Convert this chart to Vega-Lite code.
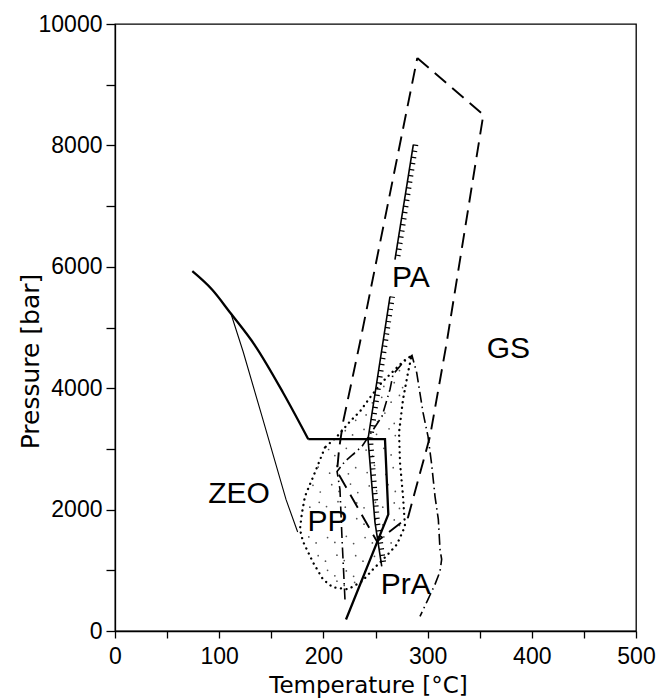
{
  "$schema": "https://vega.github.io/schema/vega-lite/v6.json",
  "width": 521,
  "height": 607,
  "autosize": {"type": "none"},
  "padding": {"left": 115, "top": 24, "right": 25, "bottom": 67},
  "background": "white",
  "config": {
    "view": {"stroke": "black", "strokeWidth": 1.3},
    "axis": {
      "domainColor": "black", "domainWidth": 1.3, "tickColor": "black", "tickWidth": 1.3,
      "labelFont": "Liberation Sans", "labelFontSize": 23, "labelColor": "black",
      "titleFont": "DejaVu Sans", "titleFontWeight": "normal", "titleColor": "black",
      "grid": false, "labelFlush": false, "labelOverlap": false, "labelBound": false
    }
  },
  "datasets": {
    "zeocurve": [
      {"i": 1, "T": 74.2, "P": 5927}, {"i": 2, "T": 93.1, "P": 5625}, {"i": 3, "T": 110.4, "P": 5247},
      {"i": 4, "T": 134.4, "P": 4703}, {"i": 5, "T": 161.2, "P": 3930}, {"i": 6, "T": 185.5, "P": 3160}
    ],
    "zeo": [
      {"i": 1, "T": 185.5, "P": 3160}, {"i": 2, "T": 259.1, "P": 3160}, {"i": 3, "T": 262.3, "P": 1921}, {"i": 4, "T": 221.7, "P": 190}
    ],
    "thin": [
      {"i": 1, "T": 111.3, "P": 5227}, {"i": 2, "T": 123.0, "P": 4600}, {"i": 3, "T": 141.1, "P": 3535}, {"i": 4, "T": 164.1, "P": 2168}, {"i": 5, "T": 175.3, "P": 1630}
    ],
    "gs": [
      {"i": 1, "T": 290.1, "P": 9440}, {"i": 2, "T": 353.5, "P": 8506}, {"i": 3, "T": 318.3, "P": 4748},
      {"i": 4, "T": 302.3, "P": 3205}, {"i": 5, "T": 281.2, "P": 1872}, {"i": 6, "T": 251.4, "P": 1477},
      {"i": 7, "T": 213.1, "P": 2629}, {"i": 8, "T": 215.0, "P": 2991}, {"i": 9, "T": 218.8, "P": 3436},
      {"i": 10, "T": 235.1, "P": 4753}, {"i": 11, "T": 290.1, "P": 9440}
    ],
    "pra": [
      {"i": 1, "T": 220.7, "P": 520}, {"i": 2, "T": 217.9, "P": 1510}, {"i": 3, "T": 215.9, "P": 2333},
      {"i": 4, "T": 213.1, "P": 2629}, {"i": 5, "T": 220.7, "P": 2794}, {"i": 6, "T": 237.0, "P": 3041},
      {"i": 7, "T": 256.2, "P": 3535}, {"i": 8, "T": 263.9, "P": 3979}, {"i": 9, "T": 266.8, "P": 4226},
      {"i": 10, "T": 276.4, "P": 4424}, {"i": 11, "T": 285.0, "P": 4539}, {"i": 12, "T": 289.5, "P": 4259},
      {"i": 13, "T": 295.6, "P": 3600}, {"i": 14, "T": 300.4, "P": 3205}, {"i": 15, "T": 303.9, "P": 2744},
      {"i": 16, "T": 307.1, "P": 2218}, {"i": 17, "T": 310.3, "P": 1839}, {"i": 18, "T": 311.9, "P": 1345},
      {"i": 19, "T": 313.5, "P": 1180}, {"i": 20, "T": 311.9, "P": 982}, {"i": 21, "T": 307.1, "P": 768},
      {"i": 22, "T": 300.4, "P": 521}, {"i": 23, "T": 292.7, "P": 240}
    ],
    "pp": [
      {"i": 1, "T": 201.5, "P": 3024}, {"i": 2, "T": 191.9, "P": 2613}, {"i": 3, "T": 182.3, "P": 2218},
      {"i": 4, "T": 179.2, "P": 1921}, {"i": 5, "T": 177.5, "P": 1674}, {"i": 6, "T": 180.4, "P": 1476},
      {"i": 7, "T": 190.0, "P": 1131}, {"i": 8, "T": 199.6, "P": 851}, {"i": 9, "T": 209.2, "P": 719},
      {"i": 10, "T": 223.6, "P": 686}, {"i": 11, "T": 237.0, "P": 817}, {"i": 12, "T": 247.6, "P": 1015},
      {"i": 13, "T": 261.0, "P": 1246}, {"i": 14, "T": 270.6, "P": 1427}, {"i": 15, "T": 278.3, "P": 1724},
      {"i": 16, "T": 276.4, "P": 2218}, {"i": 17, "T": 273.5, "P": 2777}, {"i": 18, "T": 272.6, "P": 3271},
      {"i": 19, "T": 276.4, "P": 3815}, {"i": 20, "T": 281.2, "P": 4259}, {"i": 21, "T": 284.7, "P": 4539},
      {"i": 22, "T": 276.4, "P": 4440}, {"i": 23, "T": 265.8, "P": 4259}, {"i": 24, "T": 256.0, "P": 4094},
      {"i": 25, "T": 244.7, "P": 3847}, {"i": 26, "T": 235.1, "P": 3617}, {"i": 27, "T": 225.5, "P": 3452},
      {"i": 28, "T": 213.1, "P": 3205}, {"i": 29, "T": 201.5, "P": 3024}
    ],
    "pa": [
      {"seg": "a", "i": 1, "T": 286.3, "P": 8013}, {"seg": "a", "i": 2, "T": 268.7, "P": 6120},
      {"seg": "b", "i": 1, "T": 263.9, "P": 5510}, {"seg": "b", "i": 2, "T": 242.8, "P": 3160},
      {"seg": "b", "i": 3, "T": 249.5, "P": 1790}, {"seg": "b", "i": 4, "T": 256.0, "P": 1065}
    ],
    "stipple": [
      {"T": 273, "P": 4290},
      {"T": 258, "P": 4030}, {"T": 268, "P": 4090}, {"T": 276, "P": 4010},
      {"T": 247, "P": 3760}, {"T": 256, "P": 3850}, {"T": 265, "P": 3770}, {"T": 273, "P": 3880},
      {"T": 231, "P": 3470}, {"T": 241, "P": 3560}, {"T": 252, "P": 3450}, {"T": 259, "P": 3590}, {"T": 268, "P": 3420},
      {"T": 221, "P": 3300}, {"T": 228, "P": 3230}, {"T": 239, "P": 3320}, {"T": 251, "P": 3240}, {"T": 263, "P": 3330}, {"T": 269, "P": 3220},
      {"T": 205, "P": 2990}, {"T": 211, "P": 2890}, {"T": 222, "P": 3010}, {"T": 229, "P": 2910}, {"T": 241, "P": 2980}, {"T": 247, "P": 2880}, {"T": 258, "P": 3010}, {"T": 265, "P": 2900},
      {"T": 195, "P": 2700}, {"T": 206, "P": 2600}, {"T": 213, "P": 2720}, {"T": 224, "P": 2590}, {"T": 231, "P": 2690}, {"T": 242, "P": 2610}, {"T": 249, "P": 2730}, {"T": 260, "P": 2580}, {"T": 267, "P": 2690},
      {"T": 190, "P": 2400}, {"T": 197, "P": 2290}, {"T": 208, "P": 2410}, {"T": 215, "P": 2300}, {"T": 226, "P": 2420}, {"T": 233, "P": 2280}, {"T": 244, "P": 2390}, {"T": 251, "P": 2310}, {"T": 262, "P": 2410}, {"T": 269, "P": 2300},
      {"T": 187, "P": 2040}, {"T": 196, "P": 2120}, {"T": 203, "P": 2050}, {"T": 214, "P": 2130}, {"T": 221, "P": 2040}, {"T": 232, "P": 2110}, {"T": 239, "P": 2030}, {"T": 250, "P": 2120}, {"T": 257, "P": 2040}, {"T": 268, "P": 2110}, {"T": 273, "P": 2020},
      {"T": 232, "P": 1850}, {"T": 239, "P": 1760}, {"T": 250, "P": 1840}, {"T": 257, "P": 1750}, {"T": 268, "P": 1830}, {"T": 273, "P": 1740},
      {"T": 186, "P": 1550}, {"T": 193, "P": 1450}, {"T": 204, "P": 1540}, {"T": 211, "P": 1460}, {"T": 222, "P": 1560}, {"T": 229, "P": 1440}, {"T": 240, "P": 1540}, {"T": 247, "P": 1450}, {"T": 258, "P": 1550}, {"T": 265, "P": 1450},
      {"T": 195, "P": 1240}, {"T": 202, "P": 1150}, {"T": 213, "P": 1250}, {"T": 220, "P": 1160}, {"T": 231, "P": 1240}, {"T": 238, "P": 1150}, {"T": 249, "P": 1230}, {"T": 255, "P": 1150},
      {"T": 204, "P": 1000}, {"T": 211, "P": 910}, {"T": 222, "P": 990}, {"T": 229, "P": 900}, {"T": 240, "P": 980},
      {"T": 213, "P": 820}, {"T": 220, "P": 750}, {"T": 230, "P": 800}
    ],
    "labels": [
      {"name": "ZEO", "T": 119.0, "P": 2250},
      {"name": "PP", "T": 203.9, "P": 1798},
      {"name": "PA", "T": 283.9, "P": 5818},
      {"name": "PrA", "T": 279.1, "P": 752},
      {"name": "GS", "T": 377.6, "P": 4638}
    ]
  },
  "encoding": {
    "x": {
      "field": "T", "type": "quantitative",
      "scale": {"domain": [0, 500], "nice": false, "zero": false},
      "axis": {
        "values": [0, 50, 100, 150, 200, 250, 300, 350, 400, 450, 500],
        "labelExpr": "datum.value % 100 === 0 ? datum.label : ''",
        "title": "Temperature [°C]",
        "tickSize": 7, "labelPadding": 7,
        "titleFontSize": 23, "titleX": 253, "titleY": 61, "titleBaseline": "alphabetic", "titleAlign": "center"
      }
    },
    "y": {
      "field": "P", "type": "quantitative",
      "scale": {"domain": [0, 10000], "nice": false, "zero": false},
      "axis": {
        "values": [0, 1000, 2000, 3000, 4000, 5000, 6000, 7000, 8000, 9000, 10000],
        "format": "d",
        "labelExpr": "datum.value % 2000 === 0 ? datum.label : ''",
        "title": "Pressure [bar]",
        "tickSize": 9, "labelPadding": 4,
        "titleFontSize": 25, "titleX": -77, "titleY": 337, "titleBaseline": "alphabetic", "titleAlign": "center"
      }
    }
  },
  "layer": [
    {
      "data": {"name": "stipple"},
      "mark": {"type": "circle", "size": 3, "color": "#333333", "opacity": 0.85}
    },
    {
      "data": {"name": "pp"},
      "mark": {"type": "line", "color": "black", "strokeWidth": 2.3, "strokeDash": [0.1, 5.5], "strokeCap": "round"},
      "encoding": {"order": {"field": "i", "type": "quantitative"}}
    },
    {
      "data": {"name": "gs"},
      "mark": {"type": "line", "color": "black", "strokeWidth": 1.9, "strokeDash": [15, 8]},
      "encoding": {"order": {"field": "i", "type": "quantitative"}}
    },
    {
      "data": {"name": "pra"},
      "mark": {"type": "line", "color": "black", "strokeWidth": 1.6, "strokeDash": [11, 4, 1.5, 4]},
      "encoding": {"order": {"field": "i", "type": "quantitative"}}
    },
    {
      "data": {"name": "thin"},
      "mark": {"type": "line", "color": "black", "strokeWidth": 1.1},
      "encoding": {"order": {"field": "i", "type": "quantitative"}}
    },
    {
      "data": {"name": "zeocurve"},
      "mark": {"type": "line", "color": "black", "strokeWidth": 2.3, "interpolate": "monotone"},
      "encoding": {"order": {"field": "i", "type": "quantitative"}}
    },
    {
      "data": {"name": "zeo"},
      "mark": {"type": "line", "color": "black", "strokeWidth": 2.3},
      "encoding": {"order": {"field": "i", "type": "quantitative"}}
    },
    {
      "data": {"name": "pa"},
      "mark": {"type": "line", "color": "black", "strokeWidth": 1.6},
      "encoding": {"order": {"field": "i", "type": "quantitative"}, "detail": {"field": "seg"}}
    },
    {
      "data": {"name": "pa"},
      "mark": {"type": "line", "color": "black", "strokeWidth": 5, "strokeDash": [1.2, 5], "strokeCap": "butt", "xOffset": 2.5},
      "encoding": {"order": {"field": "i", "type": "quantitative"}, "detail": {"field": "seg"}}
    },
    {
      "data": {"name": "labels"},
      "mark": {"type": "text", "font": "Liberation Sans", "fontSize": 30, "color": "black", "align": "center", "baseline": "middle"},
      "encoding": {"text": {"field": "name"}}
    }
  ]
}
